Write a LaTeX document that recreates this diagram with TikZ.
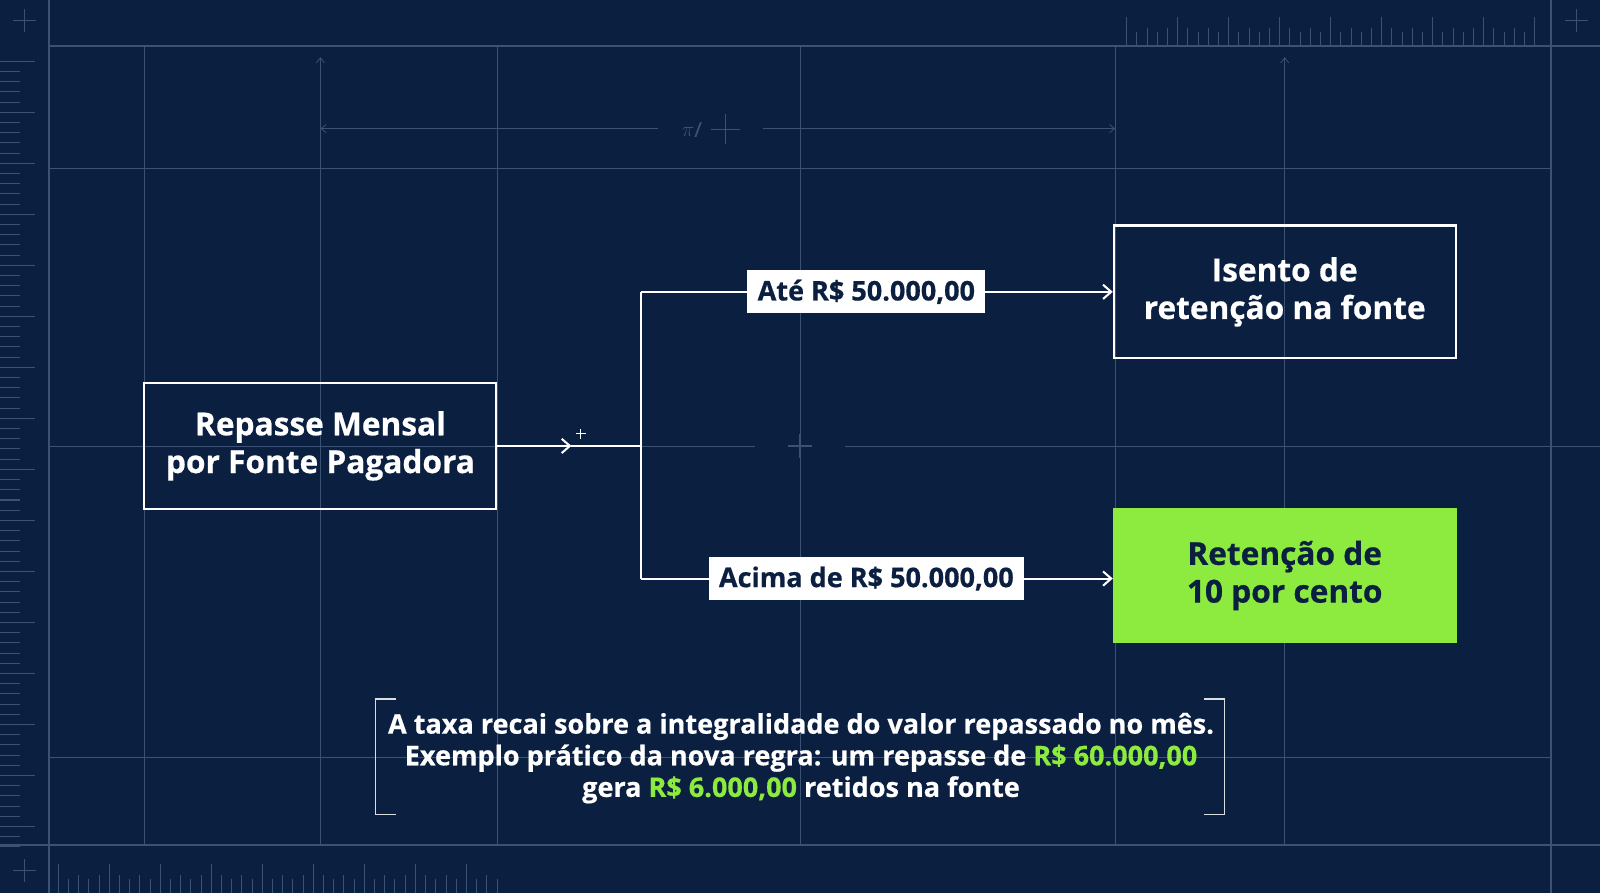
\documentclass[tikz,border=0pt]{standalone}
\usepackage{fontspec}
\setmainfont{Open Sans}[FakeBold=0.6]
\usetikzlibrary{arrows.meta}
\definecolor{bg}{HTML}{0B1F40}
\definecolor{grid}{HTML}{3B5274}
\definecolor{lime}{HTML}{8CEB3E}
\begin{document}
\begin{tikzpicture}[x=1pt,y=-1pt,
  gl/.style={draw=grid,line width=1.2pt},
  box/.style={draw=white,line width=2pt,minimum width=335pt,minimum height=130pt,align=center,text=white,font=\bfseries\fontsize{31}{37}\selectfont},
  lab/.style={fill=white,text=bg,font=\bfseries\fontsize{26.5}{28}\selectfont,inner xsep=10pt,minimum height=42pt},
  con/.style={draw=white,line width=2pt},
  arr/.style={-{Straight Barb[length=8pt,width=14pt,line width=2pt]}}]
\useasboundingbox (0,0) rectangle (1568,875);
\fill[bg] (0,0) rectangle (1568,875);
% frame and grid
\draw[gl] (48,0) -- (48,875) (1520,0) -- (1520,875);
\draw[gl] (48,45) -- (1568,45) (0,828) -- (1568,828);
\foreach \x in {142,487,784,1093} \draw[gl,line width=0.8pt] (\x,45) -- (\x,828);
\foreach \y in {165,742} \draw[gl,line width=0.8pt] (48,\y) -- (1520,\y);
\draw[gl,line width=0.8pt] (48,437) -- (740,437) (828,437) -- (1568,437);
\draw[gl,line width=0.8pt,-{Straight Barb[length=5pt,width=8pt]}] (314,828) -- (314,56);
\draw[gl,line width=0.8pt,-{Straight Barb[length=5pt,width=8pt]}] (1259,828) -- (1259,56);
\draw[gl,line width=0.8pt,-{Straight Barb[length=5pt,width=8pt]}] (645,126) -- (314,126);
\draw[gl,line width=0.8pt,-{Straight Barb[length=5pt,width=8pt]}] (748,126) -- (1093,126);
\node[text=grid,font=\fontsize{20}{22}\selectfont] (pi) at (678,127) {$\pi$/};
\draw[gl] (711,112) -- (711,141) (697,127) -- (725,127);
\draw[gl] (772,437) -- (796,437) (784,425) -- (784,449);
% plus marks
\foreach \p in {(24,20),(1545,20),(24,853)} \draw[gl] \p ++(-11,0) -- ++(22,0) \p ++(0,-11) -- ++(0,22);
% rulers
\foreach \i in {0,...,40} {\pgfmathsetmacro\l{mod(\i,5)==0?28:(mod(\i,2)==0?18:14)}
  \draw[gl,line width=0.8pt] (1104+\i*10,45) -- (1104+\i*10,45-\l);}
\foreach \i in {0,...,43} {\pgfmathsetmacro\l{mod(\i,5)==0?28:(mod(\i,2)==0?18:14)}
  \draw[gl,line width=0.8pt] (57+\i*10,875) -- (57+\i*10,875-\l);}
\foreach \i in {0,...,77} {\pgfmathsetmacro\l{mod(\i,5)==0?34:20}
  \draw[gl,line width=1pt] (0,60+\i*10) -- (\l,60+\i*10);}
% nodes
\node[box,minimum width=345pt,minimum height=123pt] (src) at (314,437) {Repasse Mensal\\por Fonte Pagadora};
\node[box] (ise) at (1259,286) {Isento de\\retenção na fonte};
\node[box,fill=lime,draw=lime,text=bg] (ret) at (1259,564) {Retenção de\\10 por cento};
\coordinate (j) at (628,437);
\coordinate (jt) at (628,286);
\coordinate (jb) at (628,567);
\draw[con,arr] (src.east) -- (560,437);
\draw[con] (560,437) -- (j);
\draw[white,line width=1pt] (564,425) -- (574,425) (569,420) -- (569,430);
\draw[con] (jb) -- (jt);
\node[lab] (l1) at (849,286) {Até R\$ 50.000,00};
\node[lab] (l2) at (849,567) {Acima de R\$ 50.000,00};
\draw[con] (jt) -- (l1.west);
\draw[con,arr] (l1.east) -- (jt -| ise.west);
\draw[con] (jb) -- (l2.west);
\draw[con,arr] (l2.east) -- (jb -| ret.west);
% note
\node[text=white,align=center,font=\bfseries\fontsize{26.5}{31}\selectfont] (note) at (785,743)
 {A taxa recai sobre a integralidade do valor repassado no mês.\\
  Exemplo prático da nova regra: um repasse de \textcolor{lime}{R\$ 60.000,00}\\
  gera \textcolor{lime}{R\$ 6.000,00} retidos na fonte};
\draw[white!85!bg,line width=1.5pt] (388,685) -- (368,685) -- (368,798) -- (388,798);
\draw[white!85!bg,line width=1.5pt] (1180,685) -- (1200,685) -- (1200,798) -- (1180,798);
\end{tikzpicture}
\end{document}
